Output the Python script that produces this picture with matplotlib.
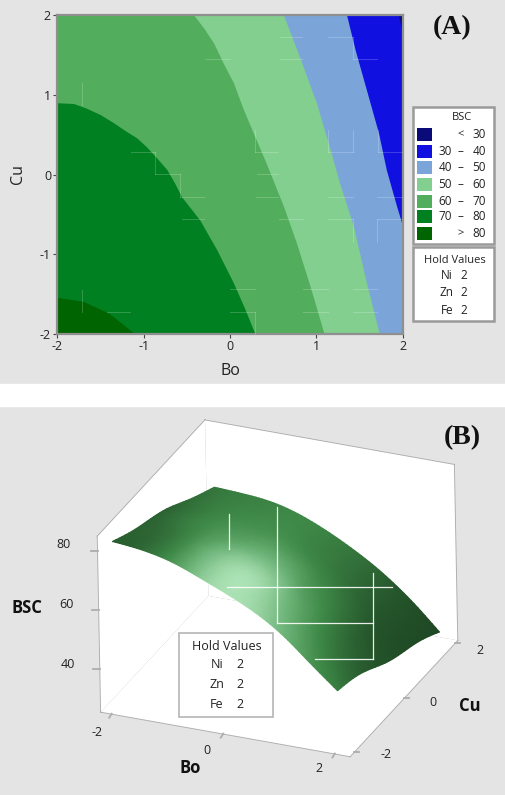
import numpy as np
import matplotlib
matplotlib.use('Agg')
import matplotlib.pyplot as plt
from matplotlib.colors import LinearSegmentedColormap
from matplotlib.patches import Rectangle
from matplotlib.tri import Triangulation, UniformTriRefiner, CubicTriInterpolator
from mpl_toolkits.mplot3d import proj3d
from mpl_toolkits.mplot3d.art3d import Poly3DCollection

plt.rcParams['font.family'] = ['Open Sans', 'DejaVu Sans']

# contour boundaries of panel A
cu80 = [-1.54, -1.59, -1.74, -2.0]
bo80 = [-2.0, -1.7, -1.4, -1.1]
cu70 = [0.9, 0.89, 0.83, 0.75, 0.65, 0.54, 0.46, 0.35, 0.21, 0.06, -0.11, -0.28, -0.57, -0.95, -1.36, -1.68, -2.0]
bo70 = [-2.0, -1.81, -1.66, -1.5, -1.35, -1.2, -1.08, -0.97, -0.85, -0.73, -0.64, -0.56, -0.35, -0.15, 0.04, 0.17, 0.29]
cu60 = [2.0, 1.83, 1.65, 1.4, 1.15, 0.83, 0.52, 0.14, -0.4, -0.86, -1.41, -2.0]
bo60 = [-0.42, -0.3, -0.19, -0.08, 0.04, 0.15, 0.27, 0.42, 0.62, 0.77, 0.93, 1.09]
cu50 = [2.0, 1.46, 0.9, 0.39, -0.11, -0.65, -1.36, -2.0]
bo50 = [0.62, 0.81, 1.0, 1.14, 1.27, 1.43, 1.58, 1.73]
cu40 = [2.0, 1.56, 1.06, 0.52, 0.06, -0.4, -0.65, -2.0]
bo40 = [1.35, 1.45, 1.58, 1.72, 1.81, 1.93, 2.0, 2.0]
cu30 = [2.0, 1.77, -2.0]
bo30 = [1.95, 2.0, 2.0]

colors = ['#0a0a78', '#1010e0', '#7ba5d9', '#82cf90', '#52ae5c', '#008020', '#006400']

# surface of panel B
bo_grid = [-2, -1.5, -1, -0.5, 0, 0.5, 1, 1.5, 2]
cu_grid = [-2, -1, 0, 1, 2]
bsc = [[82.5, 81.5, 79.5, 76.0, 72.0, 67.5, 61.5, 53.5, 45.5],
       [78.0, 77.5, 76.0, 73.0, 68.5, 63.5, 57.5, 50.5, 42.5],
       [74.5, 74.0, 72.0, 68.5, 64.5, 59.5, 53.0, 45.5, 37.0],
       [69.0, 68.0, 66.5, 64.0, 60.5, 55.5, 49.8, 42.3, 33.5],
       [64.0, 63.5, 62.5, 60.0, 56.0, 51.0, 45.0, 37.5, 28.5]]
shade = [[.12, .18, .38, .70, .92, .85, .62, .42, .28],
         [.15, .22, .42, .72, .90, .70, .45, .25, .12],
         [.15, .28, .40, .52, .58, .45, .30, .13, .06],
         [.20, .30, .35, .38, .35, .28, .18, .08, .03],
         [.25, .30, .32, .35, .32, .25, .15, .06, .02]]

# pale lines left in the picture, in 3x pixels
lines_a = [(245, 250, 245, 315), (392, 455, 465, 455), (465, 455, 465, 522), (465, 522, 540, 522),
           (540, 522, 540, 590), (540, 590, 612, 590), (545, 658, 612, 658), (615, 178, 690, 178),
           (840, 110, 905, 110), (840, 178, 905, 178), (985, 110, 1060, 110), (1060, 110, 1060, 178),
           (1060, 178, 1130, 178), (765, 390, 765, 455), (765, 455, 835, 455), (985, 390, 985, 455),
           (985, 455, 1060, 455), (1060, 390, 1060, 455), (1135, 390, 1135, 455), (1135, 455, 1205, 455),
           (768, 592, 835, 592), (985, 592, 1060, 592), (1130, 592, 1205, 592), (770, 522, 835, 522),
           (838, 658, 910, 658), (985, 658, 1060, 658), (1060, 658, 1060, 725), (1132, 658, 1132, 725),
           (1132, 658, 1205, 658), (690, 868, 765, 868), (910, 868, 985, 868), (1060, 868, 1130, 868),
           (245, 870, 245, 935), (320, 935, 390, 935), (690, 935, 765, 935), (765, 935, 765, 1002),
           (910, 935, 985, 935), (1060, 935, 1130, 935)]
lines_b = [(688, 372, 688, 478), (830, 350, 830, 700), (680, 592, 1175, 592), (830, 700, 1120, 700),
           (1120, 548, 1120, 808), (945, 808, 1120, 808)]

W, H = 506, 795
BG = '#e4e4e4'
EDGE = '#8f8f8f'

fig = plt.figure(figsize=(W / 100, H / 100), dpi=100, facecolor=BG)
fig.add_artist(Rectangle((0, 1 - 406 / H), 1, 22 / H, transform=fig.transFigure, color='white', zorder=-1))

# panel A
ax = fig.add_axes([57.3 / W, 1 - 334 / H, 345.4 / W, 319 / H], facecolor=colors[0])
for c, b, col in [(cu30, bo30, colors[1]), (cu40, bo40, colors[2]), (cu50, bo50, colors[3]),
                  (cu60, bo60, colors[4]), (cu70, bo70, colors[5]), (cu80, bo80, colors[6])]:
    ax.fill_betweenx(c, -2, b, color=col, lw=0)
ax.set_xlim(-2, 2)
ax.set_ylim(-2, 2)
ax.set_xticks([-2, -1, 0, 1, 2])
ax.set_yticks([-2, -1, 0, 1, 2])
ax.set_xticklabels(['-2', '-1', '0', '1', '2'], fontsize=9)
ax.set_yticklabels(['-2', '-1', '0', '1', '2'], fontsize=9)
ax.tick_params(length=3, width=0.8, color='#444444', pad=1.5, labelcolor='#222222')
ax.set_xlabel('Bo', fontsize=11.5, color='#222222', labelpad=7)
ax.set_ylabel('Cu', fontsize=11.5, color='#222222', labelpad=10)
for s in ax.spines.values():
    s.set_color(EDGE)
    s.set_linewidth(1.6)

# panel B box
bo_lim = (-2.19, 2.27)
cu_lim = (-2.15, 2.1)
z_lim = (25.7, 85.0)
ax3 = fig.add_axes([0.05, 0.02, 0.7, 0.7 * W / H], projection='3d', proj_type='ortho', facecolor='none')
ax3.view_init(elev=27, azim=-66.4, roll=1.1)
ax3.set_box_aspect((812, 821, 591))
ax3.set_xlim(bo_lim)
ax3.set_ylim(cu_lim)
ax3.set_zlim(z_lim)
ax3.set_axis_off()


def to_px(x, y, z):
    x, y, z = np.asarray(x, float), np.asarray(y, float), np.asarray(z, float)
    tx, ty, _ = proj3d.proj_transform(x.ravel(), y.ravel(), z.ravel(), ax3.get_proj())
    p = ax3.transData.transform(np.column_stack([tx, ty]))
    return p[:, 0].reshape(x.shape), H - p[:, 1].reshape(x.shape)


# fit the box onto the corners seen in the reference
x0, x1 = bo_lim
y0, y1 = cu_lim
z0, z1 = z_lim
tx = np.array([303, 1050, 1372]) / 3
ty = 390 + np.array([965, 1098, 752]) / 3
ax3.apply_aspect()
px, py = to_px([x0, x1, x1], [y0, y0, y1], [z0, z0, z0])
scale = np.hypot(tx[2] - tx[0], ty[2] - ty[0]) / np.hypot(px[2] - px[0], py[2] - py[0])
pos = ax3.get_position()
ax3.set_position([pos.x0, pos.y0, pos.width * scale, pos.height * scale])
ax3.apply_aspect()
px, py = to_px([x0, x1, x1], [y0, y0, y1], [z0, z0, z0])
pos = ax3.get_position()
ax3.set_position([pos.x0 + (tx - px).mean() / W, pos.y0 - (ty - py).mean() / H, pos.width, pos.height])
ax3.apply_aspect()

walls = [[(x0, y0, z0), (x1, y0, z0), (x1, y1, z0), (x0, y1, z0)],
         [(x0, y0, z0), (x0, y1, z0), (x0, y1, z1), (x0, y0, z1)],
         [(x0, y1, z0), (x1, y1, z0), (x1, y1, z1), (x0, y1, z1)]]
ax3.add_collection3d(Poly3DCollection(walls, facecolor='white', edgecolor='none', shade=False))
box_edges = [((x0, y0, z0), (x1, y0, z0)), ((x1, y0, z0), (x1, y1, z0)), ((x0, y0, z0), (x0, y1, z0)),
             ((x0, y1, z0), (x1, y1, z0)), ((x0, y0, z0), (x0, y0, z1)), ((x0, y1, z0), (x0, y1, z1)),
             ((x1, y1, z0), (x1, y1, z1)), ((x0, y0, z1), (x0, y1, z1)), ((x0, y1, z1), (x1, y1, z1))]
for a, b in box_edges:
    ax3.plot(*zip(a, b), color='#adadad', lw=1.3)

# overlay in figure pixels
cv = fig.add_axes([0, 0, 1, 1], facecolor='none', zorder=5)
cv.set_xlim(0, W)
cv.set_ylim(H, 0)
cv.axis('off')

for x_a, y_a, x_b, y_b in lines_a:
    cv.plot([x_a / 3, x_b / 3], [y_a / 3, y_b / 3], color='white', alpha=0.2, lw=0.7)

cv.text(452, 28, '(A)', family='Liberation Serif', weight='bold', fontsize=20, ha='center', va='center', color='#111111')
cv.text(462, 438, '(B)', family='Liberation Serif', weight='bold', fontsize=20, ha='center', va='center', color='#111111')

# legend of panel A
for y_top, y_bot in [(107, 244), (247, 321)]:
    cv.add_patch(Rectangle((413.5, y_top), 81, y_bot - y_top, fc='white', ec='#9a9a9a', lw=1.8))
cv.text(462, 118, 'BSC', fontsize=8, ha='center', va='center', color='#222222')
swatch_top = [128, 145, 161, 178, 195, 210, 227]
low = ['<', '30', '40', '50', '60', '70', '>']
high = ['30', '40', '50', '60', '70', '80', '80']
for i in range(7):
    cv.add_patch(Rectangle((417, swatch_top[i]), 15, 13, fc=colors[i], ec='none'))
    yt = swatch_top[i] + 6.5
    cv.text(479, yt, high[i], fontsize=8.5, ha='center', va='center', color='#222222')
    if low[i] in ('<', '>'):
        cv.text(461, yt, low[i], fontsize=8, ha='center', va='center', color='#222222')
    else:
        cv.text(445, yt, low[i], fontsize=8.5, ha='center', va='center', color='#222222')
        cv.text(460.5, yt, '–', fontsize=8.5, ha='center', va='center', color='#222222')
cv.text(454.5, 260.5, 'Hold Values', fontsize=8, ha='center', va='center', color='#222222')
for name, yt in [('Ni', 275.5), ('Zn', 293), ('Fe', 310)]:
    cv.text(447, yt, name, fontsize=8.5, ha='center', va='center', color='#222222')
    cv.text(464, yt, '2', fontsize=8.5, ha='center', va='center', color='#222222')

# surface of panel B: smooth the table for drawing, project it with the 3d axes
cmap = LinearSegmentedColormap.from_list('surf', [(0, '#1d4522'), (.35, '#3f8a48'), (.6, '#6fb57a'), (1, '#b9ecc2')])
bo_m, cu_m = np.meshgrid(bo_grid, cu_grid)
tri = Triangulation(bo_m.ravel(), cu_m.ravel())
z_flat = np.array(bsc).ravel()
s_flat = np.array(shade).ravel()
refiner = UniformTriRefiner(tri)
fine, z_fine = refiner.refine_field(z_flat, CubicTriInterpolator(tri, z_flat), subdiv=3)
_, s_fine = refiner.refine_field(s_flat, CubicTriInterpolator(tri, s_flat), subdiv=3)
sx, sy = to_px(fine.x, fine.y, z_fine)
cv.tripcolor(Triangulation(sx, sy, fine.triangles), np.clip(s_fine, 0, 1), cmap=cmap, vmin=0, vmax=1,
             shading='gouraud', zorder=3)
for x_a, y_a, x_b, y_b in lines_b:
    cv.plot([x_a / 3, x_b / 3], [390 + y_a / 3, 390 + y_b / 3], color='white', lw=0.9, alpha=0.9, zorder=4)

# ticks of panel B
for v, (lx, ly) in zip([80, 60, 40], [(64, 545), (66, 605), (68, 664)]):
    a, b = to_px([x0], [y0], [v])
    cv.plot([a[0] - 7, a[0]], [b[0], b[0]], color='#adadad', lw=1.3)
    cv.text(lx, ly, str(v), fontsize=9, ha='center', va='center', color='#222222')
for v, (lx, ly) in zip([-2, 0, 2], [(97, 732), (207, 751), (319, 768)]):
    a, b = to_px([v], [y0], [z0])
    cv.plot([a[0], a[0] - 2.5], [b[0], b[0] + 4], color='#adadad', lw=1.3)
    cv.text(lx, ly, str(v), fontsize=9, ha='center', va='center', color='#222222')
for v, (lx, ly) in zip([-2, 0, 2], [(386, 754), (433, 702), (480, 651)]):
    a, b = to_px([x1], [v], [z0])
    cv.plot([a[0], a[0] + 5], [b[0], b[0]], color='#adadad', lw=1.3)
    cv.text(lx, ly, str(v), fontsize=9, ha='center', va='center', color='#222222')
cv.text(27, 608, 'BSC', fontsize=12, weight='bold', ha='center', va='center', color='#111111')
cv.text(190, 768, 'Bo', fontsize=12, weight='bold', ha='center', va='center', color='#111111')
cv.text(470, 706, 'Cu', fontsize=12, weight='bold', ha='center', va='center', color='#111111')

# hold values of panel B
cv.add_patch(Rectangle((179, 633), 94, 84, fc='white', ec='#b5b5b5', lw=1.2, zorder=6))
cv.text(227, 646, 'Hold Values', fontsize=9, ha='center', va='center', color='#222222', zorder=7)
for name, yt in [('Ni', 665), ('Zn', 685), ('Fe', 704)]:
    cv.text(217, yt, name, fontsize=9, ha='center', va='center', color='#222222', zorder=7)
    cv.text(240, yt, '2', fontsize=9, ha='center', va='center', color='#222222', zorder=7)

fig.savefig('out.png', dpi=100, facecolor=BG)
